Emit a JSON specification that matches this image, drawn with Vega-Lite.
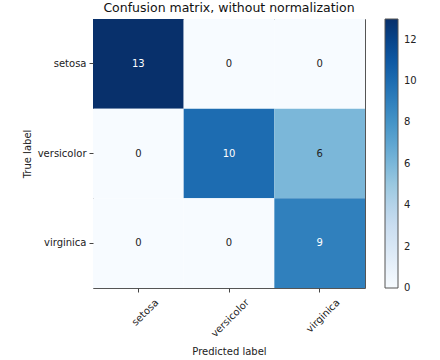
{
  "$schema": "https://vega.github.io/schema/vega-lite/v6.json",
  "width": 272,
  "height": 269,
  "autosize": "none",
  "padding": {"left": 93, "top": 19, "right": 75, "bottom": 72},
  "background": "white",
  "config": {
    "font": "DejaVu Sans",
    "view": {"stroke": "#555", "strokeWidth": 1},
    "axis": {"domain": false, "grid": false, "tickColor": "#444", "tickSize": 4, "labelFontSize": 10, "labelColor": "#222", "titleFontSize": 10, "titleFontWeight": "normal", "titleColor": "#222", "labelPadding": 3}
  },
  "title": {"text": "Confusion matrix, without normalization", "fontSize": 12.5, "fontWeight": "normal", "color": "#111", "offset": 5, "anchor": "middle"},
  "data": {"values": [
    {"true": "setosa", "pred": "setosa", "count": 13},
    {"true": "setosa", "pred": "versicolor", "count": 0},
    {"true": "setosa", "pred": "virginica", "count": 0},
    {"true": "versicolor", "pred": "setosa", "count": 0},
    {"true": "versicolor", "pred": "versicolor", "count": 10},
    {"true": "versicolor", "pred": "virginica", "count": 6},
    {"true": "virginica", "pred": "setosa", "count": 0},
    {"true": "virginica", "pred": "versicolor", "count": 0},
    {"true": "virginica", "pred": "virginica", "count": 9}
  ]},
  "encoding": {
    "x": {"field": "pred", "type": "nominal", "sort": ["setosa", "versicolor", "virginica"],
      "scale": {"paddingInner": 0, "paddingOuter": 0},
      "axis": {"title": "Predicted label", "labelAngle": -45, "labelAlign": "right", "labelBaseline": "top", "labelOffset": 15, "labelPadding": 5, "titleY": 66, "titleBaseline": "alphabetic"}},
    "y": {"field": "true", "type": "nominal", "sort": ["setosa", "versicolor", "virginica"],
      "scale": {"paddingInner": 0, "paddingOuter": 0},
      "axis": {"title": "True label", "titleX": -66, "titleY": 134.5, "titleBaseline": "middle", "titleAlign": "center", "titleAngle": 270}}
  },
  "layer": [
    {
      "mark": {"type": "rect"},
      "encoding": {
        "color": {"field": "count", "type": "quantitative",
          "scale": {"domain": [0, 13], "range": ["#f7fbff", "#deebf7", "#c6dbef", "#9ecae1", "#6baed6", "#4292c6", "#2171b5", "#08519c", "#08306b"], "interpolate": "rgb"},
          "legend": {"title": null, "orient": "none", "legendX": 292, "legendY": 0, "direction": "vertical", "gradientLength": 269, "gradientThickness": 13, "gradientStrokeColor": "#555", "gradientStrokeWidth": 1, "values": [0, 2, 4, 6, 8, 10, 12], "labelFontSize": 10, "labelColor": "#222", "labelOffset": 6, "labelOverlap": false, "padding": 0,
            "encode": {"labels": {"update": {"baseline": {"value": "middle"}}}}}}
      }
    },
    {
      "mark": {"type": "text", "fontSize": 10},
      "encoding": {
        "text": {"field": "count", "type": "quantitative"},
        "color": {"condition": {"test": "datum.count > 6.5", "value": "white"}, "value": "#222"}
      }
    }
  ]
}
